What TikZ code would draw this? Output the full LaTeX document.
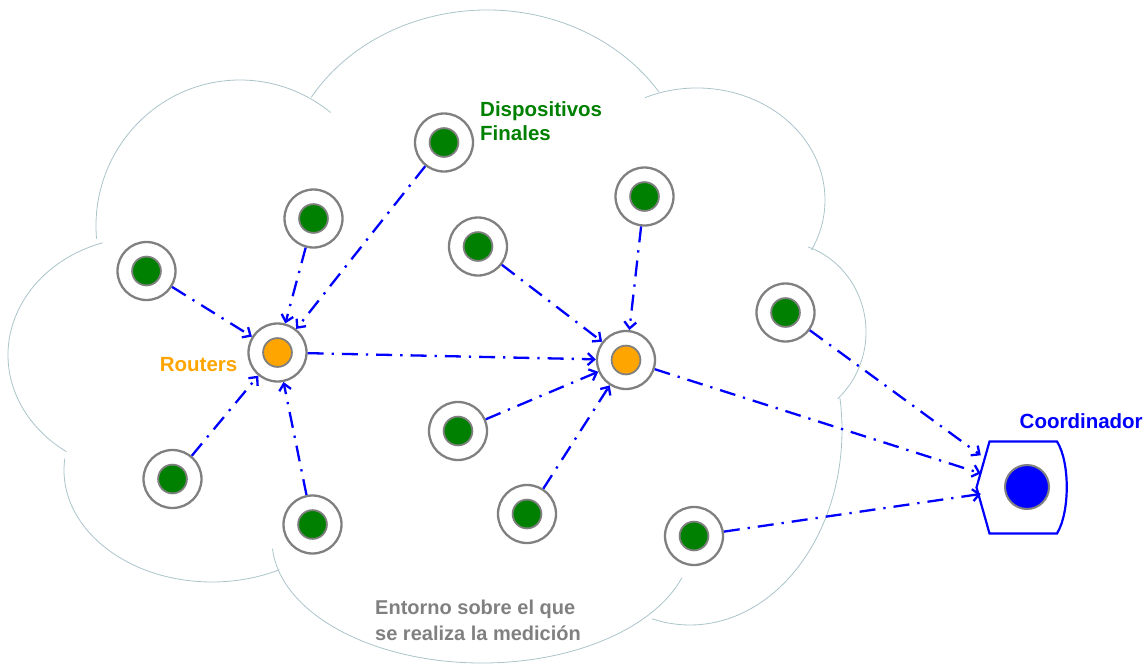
\documentclass[tikz,border=0pt]{standalone}
\usepackage{fontspec}
\setmainfont{Liberation Sans}
\usetikzlibrary{arrows.meta}
\definecolor{devgreen}{RGB}{0,128,0}
\definecolor{ringgray}{RGB}{128,128,128}
\definecolor{rtorange}{RGB}{255,165,0}
\definecolor{cloudline}{RGB}{170,196,202}
\definecolor{linkblue}{RGB}{0,0,255}
\definecolor{txtgray}{RGB}{128,128,128}
\begin{document}
\begin{tikzpicture}[x=1pt,y=-1pt,
  dev/.style={circle, draw=ringgray, line width=2.3pt, fill=white, minimum size=58pt, inner sep=0pt,
    path picture={\draw[ringgray, line width=1.8pt, fill=#1] (path picture bounding box.center) circle[radius=14.4pt];}},
  enddev/.style={dev=devgreen},
  router/.style={dev=rtorange},
  link/.style={draw=linkblue, line width=2.3pt, dash pattern=on 16pt off 8pt on 2.3pt off 8pt,
    -{Straight Barb[length=6.5pt,width=12pt]}},
  cloudarc/.style={draw=cloudline, line width=0.8pt},
  lbl/.style={font=\fontsize{20.5}{23.5}\selectfont\bfseries, inner sep=0pt, align=left}
]
\useasboundingbox (0,0) rectangle (1146,664);

% cloud outline
\draw[cloudarc] (487,190) ++(211:205 and 180) arc[start angle=211, end angle=327, x radius=205, y radius=180];
\draw[cloudarc] (240,226) ++(175:144 and 146) arc[start angle=175, end angle=309, x radius=144, y radius=146];
\draw[cloudarc] (145,355) ++(252:137 and 118) arc[start angle=252, end angle=125, x radius=137, y radius=118];
\draw[cloudarc] (212,470) ++(186:148 and 112) arc[start angle=186, end angle=63, x radius=148, y radius=112];
\draw[cloudarc] (482,540) ++(176:210 and 123) arc[start angle=176, end angle=18, x radius=210, y radius=123];
\draw[cloudarc] (690,430) ++(-9.5:152 and 195) arc[start angle=-9.5, end angle=104.4, x radius=152, y radius=195];
\draw[cloudarc] (780,332) ++(-71:86 and 90) arc[start angle=-71, end angle=48, x radius=86, y radius=90];
\draw[cloudarc] (697,200) ++(246:128 and 112) arc[start angle=246, end angle=386.5, x radius=128, y radius=112];

% end devices
\node[enddev] (e1) at (146.5,271) {};
\node[enddev] (e2) at (313.5,218.5) {};
\node[enddev] (e3) at (444,142.5) {};
\node[enddev] (e4) at (478,246.5) {};
\node[enddev] (e5) at (644.5,196.5) {};
\node[enddev] (e6) at (785.5,312.5) {};
\node[enddev] (e7) at (172.5,479) {};
\node[enddev] (e8) at (312.5,524.5) {};
\node[enddev] (e9) at (458,431) {};
\node[enddev] (e10) at (527,514) {};
\node[enddev] (e11) at (694,536) {};
% routers
\node[router] (r1) at (277.5,352.5) {};
\node[router] (r2) at (626,360) {};

% coordinator
\draw[linkblue, line width=2.2pt, fill=white] (989.5,441.5) -- (1057,441.5)
  .. controls (1070,462) and (1070,512) .. (1057,533.5) -- (989.5,533.5) -- (976.5,487.5) -- cycle;
\draw[ringgray, line width=2pt, fill=linkblue] (1027,487) circle[radius=22];
\node[minimum width=88pt, minimum height=92pt, inner sep=0pt] (coord) at (1025,487.5) {};

% links
\draw[link] (e1) -- (r1);
\draw[link] (e2) -- (r1);
\draw[link] (e3) -- (r1);
\draw[link] (e7) -- (r1);
\draw[link] (e8) -- (r1);
\draw[link] (r1) -- (r2);
\draw[link] (e4) -- (r2);
\draw[link] (e5) -- (r2);
\draw[link] (e9) -- (r2);
\draw[link] (e10) -- (r2);
\draw[link] (r2) -- (coord);
\draw[link] (e6) -- (coord);
\draw[link] (e11) -- (coord);

% labels
\node[lbl, text=devgreen, anchor=north west] (lfin) at (480,101.5) {Dispositivos\\Finales};
\node[lbl, text=rtorange, anchor=base east] (lrt) at (237.5,371) {Routers};
\node[lbl, text=linkblue, anchor=base west] (lco) at (1019.5,428.5) {Coordinador};
\node[lbl, text=txtgray, anchor=north west, font=\fontsize{20}{25.5}\selectfont\bfseries] (lenv) at (375,600) {Entorno sobre el que\\se realiza la medición};
\end{tikzpicture}
\end{document}
